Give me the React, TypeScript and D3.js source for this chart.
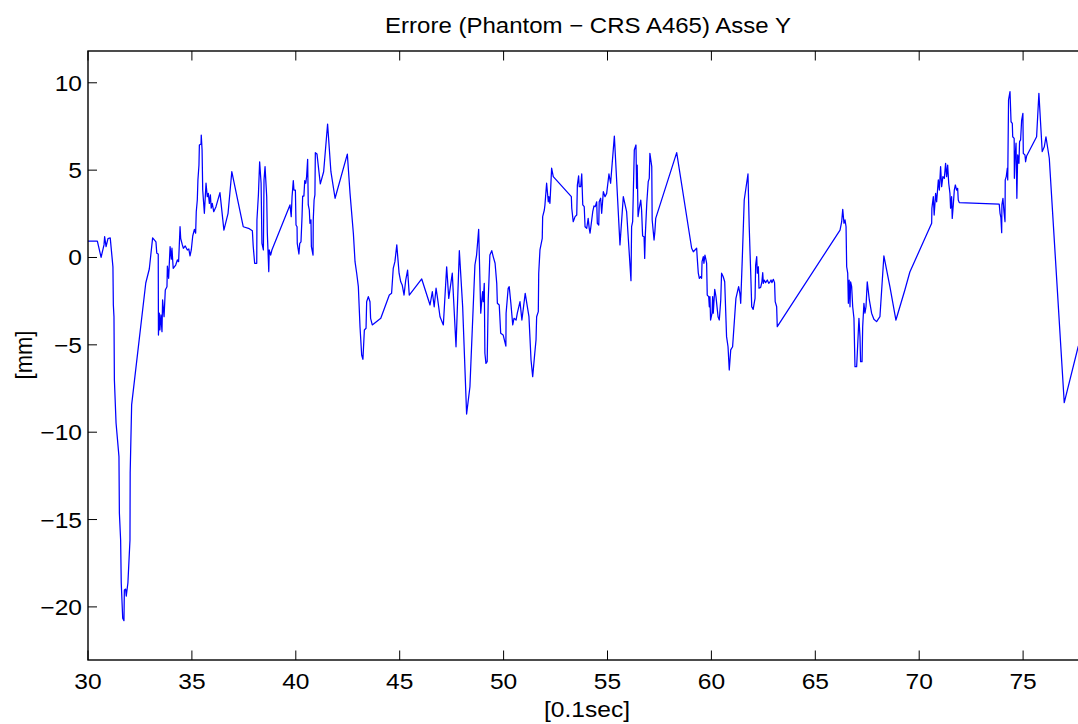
import React from "react";
import * as d3 from "d3";

const chartTitle = "Errore (Phantom \u2212 CRS A465) Asse Y";
const xLabel = "[0.1sec]";
const yLabel = "[mm]";
const xTicks = [30, 35, 40, 45, 50, 55, 60, 65, 70, 75];
const yTicks = [-20, -15, -10, -5, 0, 5, 10];

// time in [0.1 sec]
const timeValues = [
  30.00,30.45,30.63,30.77,30.80,30.87,30.96,31.07,31.20,31.22,31.25,31.27,31.35,31.49,31.51,31.57,31.60,31.67,31.73,31.75,31.81,31.84,31.92,32.02,32.03,32.10,
  32.78,32.95,33.11,33.27,33.31,33.38,33.39,33.43,33.46,33.51,33.56,33.59,33.66,33.72,33.80,33.82,33.88,33.95,34.01,34.04,34.10,34.22,34.30,34.36,34.43,34.46,34.54,34.59,34.68,34.78,34.85,34.91,34.97,35.04,35.12,35.18,35.21,35.26,35.29,35.34,35.36,35.44,35.45,35.49,35.52,35.60,35.68,35.74,35.79,35.84,35.89,35.93,35.98,36.05,36.16,36.35,36.54,36.74,36.92,37.47,37.76,37.91,37.95,38.02,38.12,38.13,38.20,38.26,38.33,38.37,38.44,38.47,38.52,38.60,38.63,38.70,38.72,38.79,38.85,
  39.72,39.78,39.82,39.88,39.91,39.98,40.01,40.06,40.07,40.15,40.19,40.25,40.30,40.33,40.39,40.43,40.48,40.52,40.57,40.60,40.65,40.68,40.73,40.75,40.83,40.84,40.88,40.92,40.94,41.02,41.18,41.34,41.53,41.69,41.89,42.48,42.61,42.77,42.85,42.93,43.01,43.09,43.17,43.23,43.30,43.38,43.41,43.49,43.57,43.60,43.68,44.09,44.50,44.61,44.69,44.77,44.86,44.97,45.05,45.12,45.21,45.29,45.38,45.46,
  46.06,46.46,46.57,46.66,46.75,46.81,46.94,47.10,47.26,47.36,47.53,47.71,47.87,48.03,48.22,48.38,48.62,48.70,48.80,48.90,48.95,48.99,49.02,49.07,49.10,49.15,49.21,49.26,49.34,49.43,49.50,49.59,49.67,49.70,49.79,49.86,49.98,50.11,50.12,50.22,50.27,50.35,50.44,50.50,50.60,50.66,50.79,50.88,51.04,51.22,51.32,51.40,51.50,51.56,51.59,51.67,51.69,51.75,51.86,51.88,51.96,51.99,52.07,52.15,52.18,52.23,52.27,52.31,52.39,
  53.26,53.28,53.35,53.44,53.52,53.55,53.61,53.64,53.71,53.76,53.81,53.88,53.92,54.00,54.07,54.12,54.16,54.20,54.29,54.35,54.41,54.48,54.51,54.58,54.60,54.67,54.72,54.80,54.88,54.96,55.07,55.15,55.33,55.60,55.76,55.92,56.13,56.16,56.21,56.24,56.29,56.37,56.40,56.43,56.47,56.53,56.60,56.64,56.69,56.76,56.79,56.82,56.89,56.96,57.01,57.04,57.13,57.15,57.24,57.28,57.32,58.33,
  59.05,59.13,59.21,59.29,59.32,59.37,59.42,59.48,59.53,59.55,59.61,59.64,59.69,59.74,59.77,59.80,59.87,59.90,59.93,59.96,60.03,60.06,60.09,60.16,60.22,60.32,60.38,60.45,60.49,60.57,60.64,60.73,60.80,60.86,60.93,61.02,61.18,61.31,61.37,61.41,61.49,61.58,61.76,61.82,61.90,61.94,62.01,62.10,62.13,62.18,62.21,62.26,62.29,62.37,62.43,62.47,62.50,62.54,62.61,62.69,62.76,62.82,62.87,62.91,62.98,63.04,63.07,63.14,63.17,
  66.19,66.27,66.32,66.38,66.43,66.48,66.51,66.56,66.59,66.63,66.67,66.70,66.75,66.80,66.86,66.91,66.99,67.04,67.10,67.15,67.18,67.25,67.28,67.34,67.39,67.44,67.50,67.60,67.71,67.82,67.95,68.11,68.30,68.59,68.88,69.31,69.55,
  70.60,70.61,70.68,70.72,70.79,70.84,70.92,70.97,71.03,71.08,71.14,71.21,71.27,71.32,71.37,71.42,71.48,71.51,71.56,71.59,71.64,71.69,71.74,71.80,71.85,71.88,71.93,
  73.85,73.89,73.93,73.97,73.98,74.03,74.08,74.13,74.14,74.19,74.24,74.26,74.30,74.37,74.42,74.48,74.50,74.57,74.58,74.61,74.66,74.70,74.74,74.80,74.83,74.88,74.93,74.99,75.01,75.09,75.12,75.17,75.65,75.76,75.92,76.02,76.10,76.26,76.98,77.65,77.95,
];

// error in [mm]
const errorValues = [
  0.94,0.94,0.01,0.72,1.19,0.62,1.08,1.12,-0.54,-2.72,-3.39,-7.01,-9.47,-11.40,-14.62,-16.17,-18.63,-20.65,-20.79,-19.03,-18.98,-19.38,-18.63,-16.17,-12.34,-8.44,
  -1.46,-0.66,1.12,0.89,0.24,0.20,-4.44,-3.18,-4.15,-3.29,-4.25,-2.43,-3.39,-1.86,-1.67,-0.49,-1.19,0.62,-0.10,0.53,-0.62,-0.43,-0.14,-0.24,1.76,1.10,0.72,0.53,0.66,0.43,0.49,0.09,0.43,1.23,1.61,1.39,2.62,3.29,4.44,5.29,6.44,6.50,7.01,6.15,3.86,2.53,4.25,3.48,3.67,3.10,3.58,2.82,3.10,2.62,2.91,3.71,1.57,2.53,4.91,1.76,1.65,1.53,0.66,-0.33,-0.33,2.15,3.58,5.48,4.25,0.81,0.43,4.44,5.20,3.48,1.39,-0.81,0.43,0.14,0.43,
  3.01,2.34,3.48,4.40,3.86,3.86,1.86,1.76,0.81,0.20,0.81,0.90,2.34,3.52,3.52,4.40,4.25,4.63,5.62,3.01,2.72,1.96,2.15,0.62,0.14,2.15,3.29,3.58,6.00,5.92,4.21,4.91,7.64,4.91,3.39,5.92,3.67,1.39,-0.24,-0.90,-1.67,-3.96,-5.58,-5.83,-4.15,-4.05,-2.53,-2.24,-2.53,-3.48,-3.86,-3.48,-2.15,-2.05,-0.62,-0.24,0.72,-0.90,-1.39,-1.57,-2.15,-1.29,-0.72,-2.15,
  -1.23,-2.72,-1.96,-2.82,-1.76,-2.24,-3.39,-3.86,-0.53,-2.34,-0.90,-5.11,0.39,-2.82,-8.96,-7.40,-0.43,0.14,1.61,-3.19,-2.43,-1.96,-2.53,-1.48,-5.48,-6.06,-5.96,-2.43,0.14,0.39,0.05,-0.33,-1.48,-2.62,-2.72,-4.34,-4.44,-5.07,-3.19,-1.76,-1.67,-2.62,-3.86,-3.48,-3.58,-3.19,-2.53,-3.58,-2.05,-3.39,-5.87,-6.82,-5.48,-4.72,-3.39,-3.10,-0.90,0.43,1.10,2.34,2.72,3.01,4.25,3.19,3.48,3.10,4.05,5.11,4.63,
  3.48,2.82,2.05,2.34,2.43,4.15,4.67,4.05,4.05,4.78,3.01,2.91,1.76,1.67,2.24,1.67,1.39,1.76,2.62,2.95,2.91,3.19,1.96,1.86,3.19,3.39,2.53,3.77,3.48,3.67,4.78,4.25,6.95,0.72,3.48,2.62,-1.33,1.76,2.05,3.58,6.15,6.44,3.96,5.29,2.34,2.82,3.29,2.72,1.23,1.19,-0.05,1.29,3.10,4.34,4.53,5.96,5.20,2.15,1.00,1.48,2.24,6.00,
  0.53,0.33,0.43,0.53,-0.05,-0.90,-1.19,-1.10,-1.19,-0.24,0.05,-0.33,0.14,-0.14,-0.33,-2.15,-2.24,-2.82,-2.24,-3.58,-3.19,-2.24,-3.19,-1.82,-2.24,-3.39,-3.58,-2.43,-0.90,-1.10,-1.39,-4.53,-5.11,-6.44,-5.29,-5.11,-2.34,-1.67,-2.05,-2.62,0.05,3.29,4.78,1.76,-1.19,-2.82,-2.97,-2.34,-0.43,0.05,-0.90,-0.53,-1.76,-1.71,-1.39,-0.87,-1.48,-1.29,-1.44,-1.29,-1.48,-1.39,-1.29,-1.44,-1.25,-1.44,-2.53,-2.82,-3.96,
  1.57,2.05,2.76,1.96,2.15,1.76,-0.53,-0.90,-2.62,-1.29,-2.82,-1.39,-1.67,-2.82,-3.48,-6.25,-6.25,-5.01,-3.48,-4.53,-5.96,-5.96,-3.96,-2.62,-3.19,-2.82,-1.39,-2.43,-3.19,-3.54,-3.67,-3.39,0.09,-1.67,-3.58,-1.86,-0.83,
  1.96,2.82,3.48,2.43,3.67,3.19,4.44,3.86,5.20,4.05,4.63,4.53,5.39,4.63,5.29,4.25,3.67,2.82,3.48,2.24,3.01,3.86,4.15,3.86,3.96,3.29,3.14,
  3.06,2.53,2.30,1.42,3.01,3.39,2.62,2.05,4.44,4.63,5.11,4.44,9.02,9.49,7.77,7.68,6.91,6.82,4.53,5.68,6.54,3.39,5.87,5.39,6.63,6.73,7.87,8.25,5.96,5.87,5.48,5.81,6.91,9.40,6.06,6.34,6.91,5.68,-8.31,-5.11,-4.20,
];

const SX = 1.117; // horizontal stretch of the original figure's text
const FONT = "Arial, 'Liberation Sans', Helvetica, sans-serif";

export default function App() {
  const W = 1078;
  const H = 724;
  const left = 88;
  const top = 51;
  const bottom = 660;
  const pxPerUnit = 20.78;
  const right = left + 48 * pxPerUnit;

  const x = d3.scaleLinear().domain([30, 78]).range([left, right]);
  const y = d3.scaleLinear().domain([-23.04, 11.82]).range([bottom, top]);

  const n = Math.min(timeValues.length, errorValues.length);
  const pts: [number, number][] = [];
  for (let i = 0; i < n; i++) pts.push([timeValues[i], errorValues[i]]);
  const line = d3
    .line<[number, number]>()
    .x((d) => x(d[0]))
    .y((d) => y(d[1]));

  const xTickLen = 9.5;
  const yTickLen = 9;

  return (
    <svg
      width={W}
      height={H}
      viewBox={`0 0 ${W} ${H}`}
      style={{ position: "absolute", left: 0, top: 0, background: "#fff" }}
      fontFamily={FONT}
    >
      <rect x={0} y={0} width={W} height={H} fill="#fff" />
      <defs>
        <clipPath id="plotClip">
          <rect x={left} y={top} width={right - left} height={bottom - top} />
        </clipPath>
      </defs>

      <path
        d={line(pts) || ""}
        fill="none"
        stroke="#0000ff"
        strokeWidth={1.25}
        strokeLinejoin="round"
        clipPath="url(#plotClip)"
      />

      {/* axes box */}
      <rect
        x={left}
        y={top}
        width={right - left}
        height={bottom - top}
        fill="none"
        stroke="#000"
        strokeWidth={1.4}
      />

      {/* x ticks */}
      {xTicks.map((t) => (
        <g key={`xt${t}`}>
          <line x1={x(t)} x2={x(t)} y1={bottom} y2={bottom - xTickLen} stroke="#000" strokeWidth={1} />
          <line x1={x(t)} x2={x(t)} y1={top} y2={top + xTickLen} stroke="#000" strokeWidth={1} />
          <text
            transform={`translate(${x(t)},689) scale(${SX},1)`}
            textAnchor="middle"
            fontSize={22}
            fill="#000"
          >
            {t}
          </text>
        </g>
      ))}

      {/* y ticks */}
      {yTicks.map((t) => (
        <g key={`yt${t}`}>
          <line x1={left} x2={left + yTickLen} y1={y(t)} y2={y(t)} stroke="#000" strokeWidth={1} />
          <text
            transform={`translate(82,${y(t) + 8}) scale(${SX},1)`}
            textAnchor="end"
            fontSize={22}
            fill="#000"
          >
            {t === 0 ? "0" : t < 0 ? `\u2212${Math.abs(t)}` : `${t}`}
          </text>
        </g>
      ))}

      {/* title */}
      <text
        transform={`translate(588,33) scale(${SX},1)`}
        textAnchor="middle"
        fontSize={21.5}
        fill="#000"
      >
        {chartTitle}
      </text>

      {/* x label */}
      <text
        transform={`translate(587,717) scale(${SX},1)`}
        textAnchor="middle"
        fontSize={22}
        fill="#000"
      >
        {xLabel}
      </text>

      {/* y label */}
      <text
        transform={`translate(32,355) scale(${SX},1) rotate(-90)`}
        textAnchor="middle"
        fontSize={22}
        fill="#000"
      >
        {yLabel}
      </text>
    </svg>
  );
}
